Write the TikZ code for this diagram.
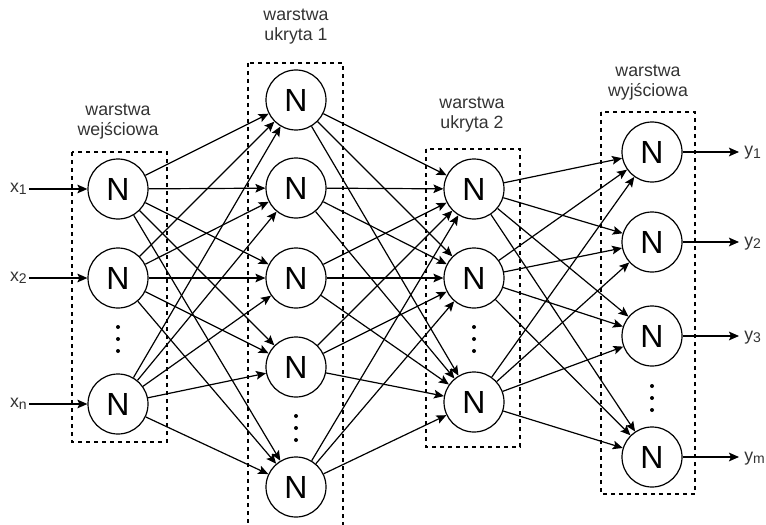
\documentclass[tikz,border=0pt]{standalone}
\usepackage{fontspec}
\setmainfont{Liberation Sans}
\usetikzlibrary{positioning, arrows.meta, calc}

\newcommand{\lowidx}[1]{\raisebox{-1.8pt}{\fontsize{10.5}{10.5}\selectfont #1}}

\begin{document}
\begin{tikzpicture}[
                x=0.75pt, y=-0.75pt,
                >={Stealth[length=7.5pt, width=6.5pt, inset=1.5pt]},
                neuron/.style={circle, draw=black, line width=0.9pt, minimum size=45pt, inner sep=0pt, font=\fontsize{24}{24}\selectfont},
                layer/.style={draw=black, dashed, line width=0.8pt},
                caption/.style={align=center, text=black!80, font=\fontsize{13.3}{15}\selectfont},
                conn/.style={->, line width=0.9pt},
            ]
                \useasboundingbox (0,0) rectangle (766,524);

                % Draw the dashed layer boxes
                \draw[layer] (72,152) rectangle (167,442);
                \draw[layer] (248,63) rectangle (343,527);
                \draw[layer] (426,149) rectangle (520,447);
                \draw[layer] (601,112) rectangle (695,494);

                % Draw the layer captions
                \node[caption] (L-in) at (118,122) {warstwa\\wejściowa};
                \node[caption] (L-h1) at (296,27) {warstwa\\ukryta 1};
                \node[caption] (L-h2) at (472,115) {warstwa\\ukryta 2};
                \node[caption] (L-out) at (648,83) {warstwa\\wyjściowa};

                % Draw the input layer nodes
                \foreach \name / \y in {1/189, 2/278, n/404}
                    \node[neuron] (I-\name) at (118,\y) {N};

                % Draw the first hidden layer nodes
                \foreach \name / \y in {1/100, 2/188, 3/278, 4/367, 5/487}
                    \node[neuron] (H1-\name) at (296,\y) {N};

                % Draw the second hidden layer nodes
                \foreach \name / \y in {1/189, 2/278, 3/402}
                    \node[neuron] (H2-\name) at (474,\y) {N};

                % Draw the output layer nodes
                \foreach \name / \y in {1/152, 2/242, 3/336, m/457}
                    \node[neuron] (O-\name) at (652,\y) {N};

                % Vertical dots for the skipped neurons
                \foreach \x / \y in {118/339, 296/428, 474/339, 652/398}
                    \foreach \d in {-12,0,12}
                        \fill (\x,\y+\d) circle (1.5pt);

                % Inputs and outputs
                \foreach \name / \y in {1/189, 2/278, n/404} {
                    \coordinate (X-\name) at (29,\y);
                    \node[caption, anchor=base east, inner sep=0pt] (XL-\name) at (27,\y+3) {x\lowidx{\name}};
                    \draw[conn] (X-\name) -- (I-\name);
                }
                \foreach \name / \y in {1/152, 2/242, 3/336, m/457} {
                    \coordinate (Y-\name) at (739,\y);
                    \node[caption, anchor=base west, inner sep=0pt] (YL-\name) at (744,\y+4) {y\lowidx{\name}};
                    \draw[conn] (O-\name) -- (Y-\name);
                }

                % Connect every node in one layer with every node in the next
                \foreach \source in {1,2,n}
                    \foreach \dest in {1,...,5}
                        \draw[conn] (I-\source) -- (H1-\dest);
                \foreach \source in {1,...,5}
                    \foreach \dest in {1,2,3}
                        \draw[conn] (H1-\source) -- (H2-\dest);
                \foreach \source in {1,2,3}
                    \foreach \dest in {1,2,3,m}
                        \draw[conn] (H2-\source) -- (O-\dest);
            \end{tikzpicture}
\end{document}
